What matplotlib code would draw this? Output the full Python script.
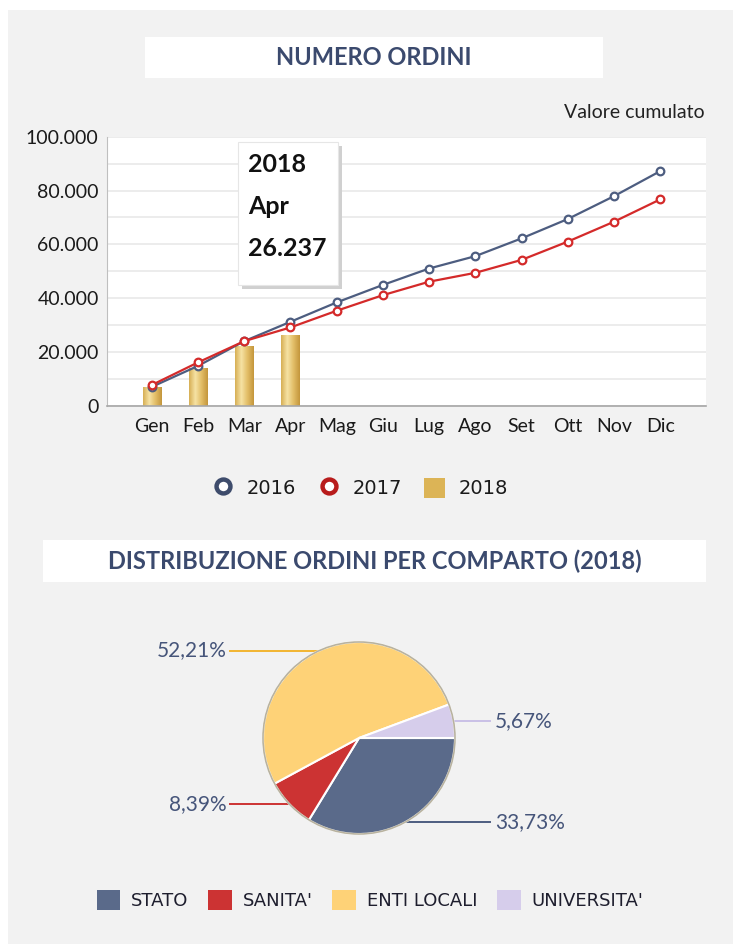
import numpy as np
import matplotlib
matplotlib.use("Agg")
import matplotlib.pyplot as plt
from matplotlib.patches import Rectangle, Patch
from matplotlib.lines import Line2D
from matplotlib.colors import LinearSegmentedColormap
from matplotlib.ticker import FuncFormatter, MultipleLocator

# monthly cumulative orders
mesi = ["Gen", "Feb", "Mar", "Apr", "Mag", "Giu", "Lug", "Ago", "Set", "Ott", "Nov", "Dic"]
ordini_2016 = [7000, 14800, 24000, 31200, 38400, 44900, 51000, 55600, 62200, 69400, 77900, 87200]
ordini_2017 = [7700, 16100, 24000, 29100, 35300, 41100, 46100, 49400, 54200, 61000, 68400, 76700]
ordini_2018 = [7060, 13900, 22300, 26237]

# distribution by sector (2018)
comparti = ["STATO", "SANITA'", "ENTI LOCALI", "UNIVERSITA'"]
quote = [33.73, 8.39, 52.21, 5.67]
colori_comparti = ["#5a6a8a", "#cc3333", "#fed277", "#d6cdeb"]

W, H = 733, 944
BG = "#f2f2f2"
TITLE_C = "#3b4a6e"
FONT = "Lato"


def fx(px):
    return px / W


def fy(py):
    return 1 - py / H


fig = plt.figure(figsize=(W / 100, H / 100), dpi=100, facecolor=BG)

# white strips at the top/left edge of the screenshot
fig.patches.append(Rectangle((0, fy(10)), 1, 10 / H, transform=fig.transFigure,
                             facecolor="white", edgecolor="none", zorder=0))
fig.patches.append(Rectangle((0, 0), 8 / W, 1, transform=fig.transFigure,
                             facecolor="white", edgecolor="none", zorder=0))

# title boxes
def title_box(x0, x1, y0, y1, text, size):
    fig.patches.append(Rectangle((fx(x0), fy(y1)), fx(x1 - x0), (y1 - y0) / H,
                                 transform=fig.transFigure, facecolor="white",
                                 edgecolor="none", zorder=1))
    fig.text(fx((x0 + x1) / 2), fy((y0 + y1) / 2), text, ha="center", va="center",
             fontsize=size, fontweight="bold", color=TITLE_C, family=FONT, zorder=2)


title_box(145, 603, 37, 78, "NUMERO ORDINI", 17)
title_box(43, 706, 540, 582, "DISTRIBUZIONE ORDINI PER COMPARTO (2018)", 17)

fig.text(fx(705), fy(113), "Valore cumulato", ha="right", va="center",
         fontsize=14, color="#222222", family=FONT)

# ---- line / bar chart
ax = fig.add_axes([fx(107), fy(405.7), fx(706 - 107), (405.7 - 136.7) / H])
ax.set_facecolor("white")
x = np.arange(len(mesi))

bars = ax.bar(x[:len(ordini_2018)], ordini_2018, width=0.4, color="#dcb456",
              zorder=2, linewidth=0)
cmap = LinearSegmentedColormap.from_list("oro", ["#d7af55", "#f6e2a4", "#e2bd66", "#c4963c"])
grad = np.linspace(0, 1, 64).reshape(1, -1)
for b in bars:
    x0, y0 = b.get_x(), b.get_y()
    im = ax.imshow(grad, cmap=cmap, aspect="auto", zorder=2.1,
                   extent=[x0, x0 + b.get_width(), y0, y0 + b.get_height()])
    im.set_clip_path(b)

ax.plot(x, ordini_2016, color="#4d5d80", lw=1.6, marker="o", ms=5.5, mfc="white",
        mec="#4d5d80", mew=1.6, zorder=3)
ax.plot(x, ordini_2017, color="#d42a2a", lw=1.6, marker="o", ms=5.5, mfc="white",
        mec="#d42a2a", mew=1.6, zorder=4)

ax.set_xlim(-0.97, 11.99)
ax.set_ylim(0, 100000)
ax.yaxis.set_major_locator(MultipleLocator(20000))
ax.yaxis.set_minor_locator(MultipleLocator(10000))
ax.yaxis.set_major_formatter(FuncFormatter(lambda v, p: f"{v:,.0f}".replace(",", ".")))
ax.grid(True, which="both", axis="y", color="#e9e9e9", lw=1.2, zorder=0)
ax.set_axisbelow(True)
ax.set_xticks(x)
ax.set_xticklabels(mesi)
ax.tick_params(axis="both", which="both", length=0, labelsize=14, colors="#1a1a1a", pad=6)
ax.tick_params(axis="x", pad=9)
for lbl in ax.get_xticklabels() + ax.get_yticklabels():
    lbl.set_family(FONT)
for s in ["top", "right"]:
    ax.spines[s].set_visible(False)
ax.spines["left"].set_color("#bfbfbf")
ax.spines["bottom"].set_color("#a6a6a6")
ax.spines["bottom"].set_linewidth(1.2)

# tooltip box
shadow = Rectangle((fx(242), fy(289)), fx(100), 143 / H, transform=fig.transFigure,
                   facecolor="#d0d0d0", edgecolor="none", zorder=5)
tip = Rectangle((fx(238), fy(285)), fx(100), 143 / H, transform=fig.transFigure,
                facecolor="white", edgecolor="#e6e6e6", lw=0.8, zorder=6)
fig.patches.extend([shadow, tip])
for ty, t in zip([165, 207, 248], ["2018", "Apr", "26.237"]):
    fig.text(fx(248), fy(ty), t, ha="left", va="center", fontsize=18,
             fontweight="bold", color="#111111", family=FONT, zorder=7)

# legend for the chart
h1 = [Line2D([], [], ls="none", marker="o", ms=10, mfc="white", mec="#3e4c6c", mew=3.2),
      Line2D([], [], ls="none", marker="o", ms=10, mfc="white", mec="#b81c1c", mew=3.2),
      Patch(facecolor="#dcb456", edgecolor="none")]
leg1 = fig.legend(h1, ["2016", "2017", "2018"], loc="center", ncol=3,
                  bbox_to_anchor=(fx(360), fy(488)), frameon=False, fontsize=14,
                  handlelength=1.1, handleheight=1.2, columnspacing=1.1, handletextpad=0.7)
for t in leg1.get_texts():
    t.set_color("#1a1a1a")

# ---- pie
cx, cy, r = 359, 738, 96
axp = fig.add_axes([fx(cx - 200), fy(cy + 100), fx(400), 200 / H])
axp.set_facecolor("none")
axp.axis("off")
wedges, _ = axp.pie(quote, colors=colori_comparti, startangle=0, counterclock=False,
                    radius=1, wedgeprops=dict(edgecolor="white", linewidth=1.5))
axp.add_patch(plt.Circle((0, 0), 1.0, fill=False, edgecolor="#8a8060", lw=1.2, alpha=0.6))
axp.set_xlim(-200 / r, 200 / r)
axp.set_ylim(-100 / r, 100 / r)

leader_c = ["#4d5d80", "#cc3333", "#f3b530", "#c9c0e6"]
for w, q, c in zip(wedges, quote, leader_c):
    ang = np.deg2rad((w.theta1 + w.theta2) / 2)
    px, py = np.cos(ang), np.sin(ang)
    if px < 0:
        tx, ha = (230 - cx) / r, "right"
    else:
        tx, ha = (490 - cx) / r, "left"
    axp.plot([px, tx], [py, py], color=c, lw=1.4, zorder=0, clip_on=False)
    axp.text(tx + (-0.03 if ha == "right" else 0.05), py, f"{q:.2f}%".replace(".", ","),
             ha=ha, va="center", fontsize=15, color="#46557a", family=FONT)

# legend for the pie
h2 = [Patch(facecolor=c, edgecolor="none") for c in colori_comparti]
leg2 = fig.legend(h2, comparti, loc="center", ncol=4, bbox_to_anchor=(fx(370), fy(900)),
                  frameon=False, fontsize=13, handlelength=1.3, handleheight=1.3,
                  columnspacing=1.1, handletextpad=0.6)
for t in leg2.get_texts():
    t.set_color("#1e1e2e")

plt.savefig("out.png", dpi=100, facecolor=BG)
